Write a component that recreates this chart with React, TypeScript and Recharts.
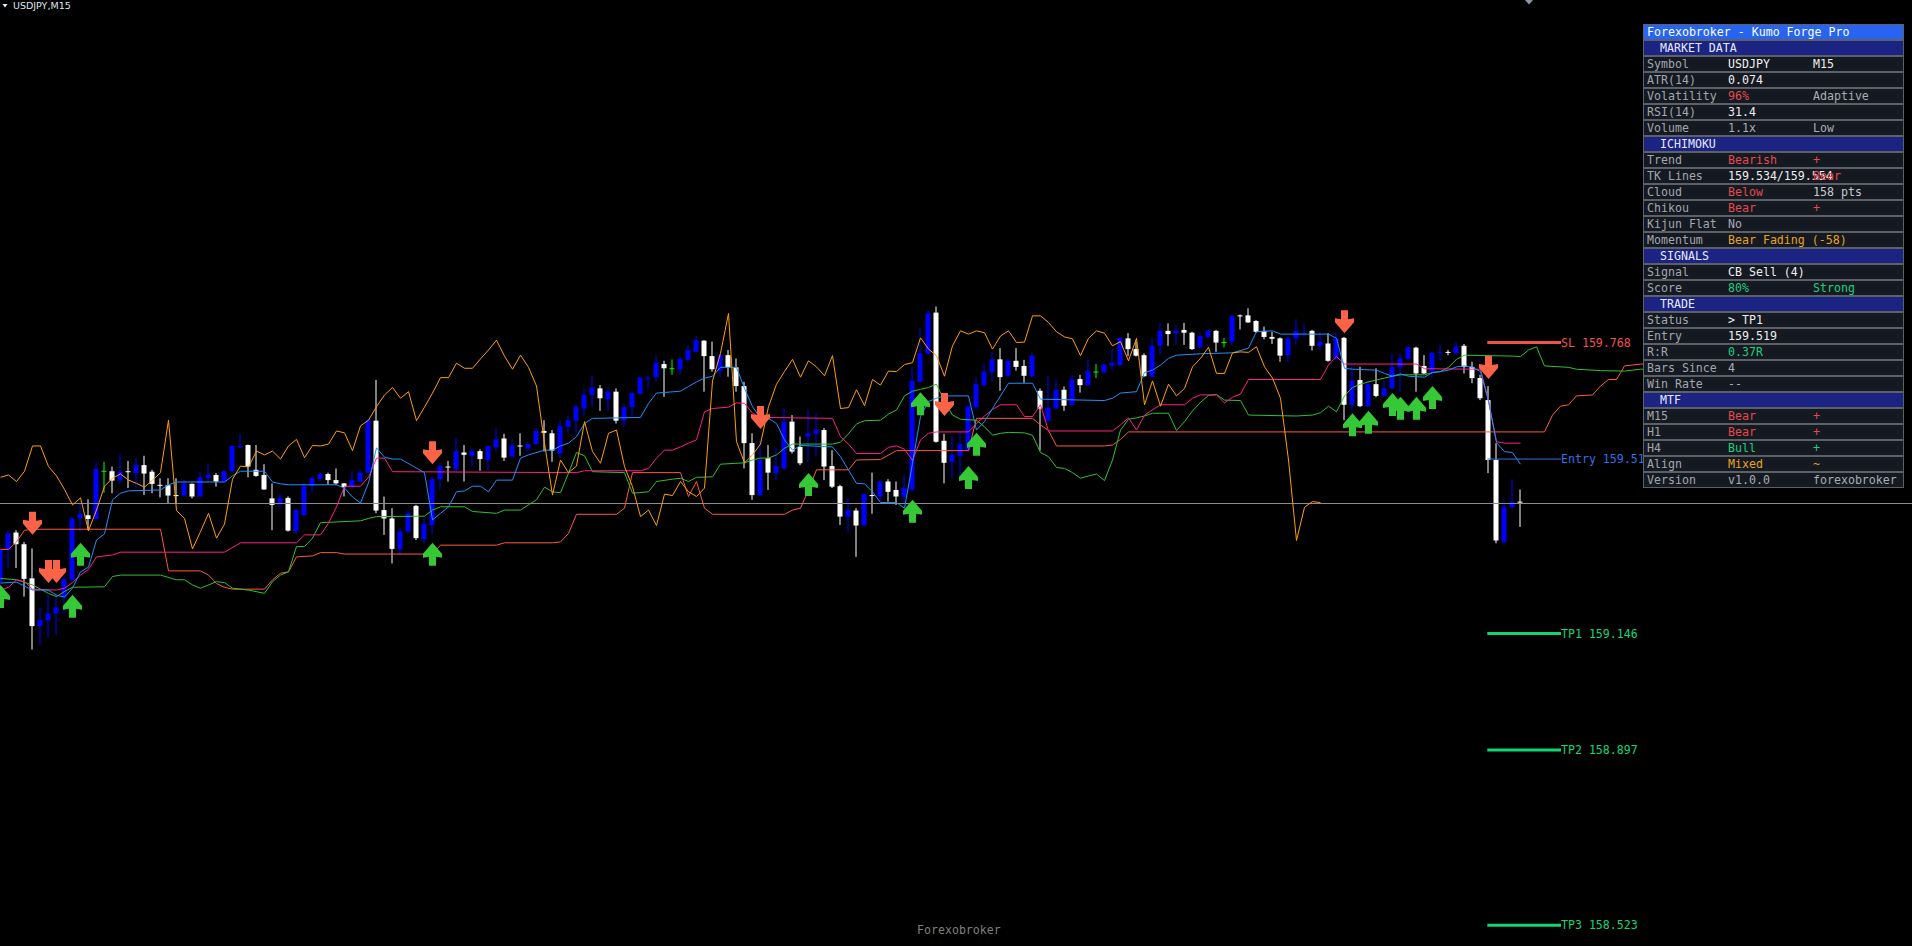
import { Bar, ComposedChart, Line, ReferenceDot, ReferenceLine, Scatter, XAxis, YAxis } from 'recharts'

const W = 1912
const H = 946
const MONO = '"DejaVu Sans Mono", "Liberation Mono", monospace'

// USDJPY M15 candles, index = bar number from the left edge
const opens = [
  159.257, 159.325, 159.362, 159.337, 159.264, 159.162, 159.174, 159.189, 159.225, 159.261,
  159.392, 159.399, 159.391, 159.494, 159.493, 159.473, 159.493, 159.489, 159.506, 159.492,
  159.464, 159.463, 159.442, 159.441, 159.466, 159.439, 159.478, 159.485, 159.471, 159.493,
  159.544, 159.549, 159.496, 159.485, 159.435, 159.424, 159.436, 159.365, 159.399, 159.461,
  159.476, 159.487, 159.474, 159.467, 159.459, 159.471, 159.49, 159.601, 159.41, 159.392,
  159.326, 159.364, 159.419, 159.348, 159.378, 159.476, 159.503, 159.497, 159.533, 159.526,
  159.536, 159.517, 159.544, 159.563, 159.524, 159.548, 159.542, 159.551, 159.579, 159.574,
  159.531, 159.588, 159.601, 159.627, 159.656, 159.67, 159.647, 159.663, 159.601, 159.63,
  159.658, 159.692, 159.694, 159.722, 159.713, 159.711, 159.731, 159.748, 159.772, 159.739,
  159.708, 159.741, 159.715, 159.675, 159.553, 159.442, 159.521, 159.489, 159.499, 159.599,
  159.545, 159.567, 159.573, 159.581, 159.504, 159.461, 159.396, 159.409, 159.377, 159.442,
  159.439, 159.471, 159.453, 159.439, 159.454, 159.684, 159.744, 159.832, 159.558, 159.513,
  159.526, 159.538, 159.63, 159.677, 159.704, 159.732, 159.697, 159.729, 159.718, 159.696,
  159.665, 159.601, 159.627, 159.667, 159.635, 159.69, 159.677, 159.706, 159.704, 159.719,
  159.72, 159.777, 159.754, 159.741, 159.695, 159.761, 159.793, 159.788, 159.795, 159.789,
  159.758, 159.78, 159.793, 159.769, 159.77, 159.826, 159.826, 159.814, 159.793, 159.78,
  159.777, 159.741, 159.777, 159.787, 159.793, 159.761, 159.766, 159.734, 159.778, 159.635,
  159.688, 159.632, 159.679, 159.654, 159.67, 159.715, 159.733, 159.757, 159.718, 159.706,
  159.747, 159.748, 159.745, 159.761, 159.716, 159.692, 159.645, 159.517, 159.342, 159.416,
  159.428,
]
const highs = [
  159.329, 159.367, 159.367, 159.342, 159.328, 159.202, 159.229, 159.229, 159.268, 159.395,
  159.424, 159.433, 159.513, 159.513, 159.503, 159.53, 159.515, 159.521, 159.526, 159.496,
  159.478, 159.478, 159.478, 159.474, 159.467, 159.492, 159.51, 159.489, 159.496, 159.549,
  159.574, 159.55, 159.549, 159.508, 159.467, 159.446, 159.439, 159.414, 159.467, 159.483,
  159.49, 159.49, 159.499, 159.468, 159.494, 159.496, 159.606, 159.688, 159.439, 159.414,
  159.372, 159.41, 159.421, 159.392, 159.481, 159.51, 159.515, 159.565, 159.549, 159.542,
  159.54, 159.548, 159.585, 159.573, 159.56, 159.574, 159.556, 159.585, 159.602, 159.581,
  159.602, 159.613, 159.635, 159.67, 159.697, 159.677, 159.672, 159.67, 159.637, 159.663,
  159.695, 159.699, 159.741, 159.729, 159.732, 159.736, 159.763, 159.782, 159.773, 159.77,
  159.744, 159.752, 159.734, 159.684, 159.574, 159.56, 159.549, 159.542, 159.627, 159.613,
  159.567, 159.624, 159.617, 159.585, 159.538, 159.464, 159.435, 159.414, 159.446, 159.49,
  159.473, 159.476, 159.471, 159.486, 159.715, 159.8, 159.838, 159.845, 159.573, 159.568,
  159.577, 159.635, 159.694, 159.724, 159.748, 159.756, 159.733, 159.756, 159.731, 159.747,
  159.67, 159.697, 159.689, 159.674, 159.699, 159.699, 159.731, 159.722, 159.722, 159.754,
  159.779, 159.788, 159.77, 159.745, 159.777, 159.81, 159.809, 159.805, 159.81, 159.791,
  159.788, 159.796, 159.795, 159.778, 159.827, 159.828, 159.841, 159.816, 159.802, 159.791,
  159.779, 159.78, 159.818, 159.809, 159.795, 159.789, 159.788, 159.791, 159.78, 159.72,
  159.716, 159.688, 159.713, 159.688, 159.745, 159.745, 159.759, 159.759, 159.741, 159.748,
  159.763, 159.752, 159.77, 159.765, 159.727, 159.699, 159.675, 159.553, 159.432, 159.476,
  159.454,
]
const lows = [
  159.239, 159.286, 159.286, 159.225, 159.112, 159.122, 159.138, 159.143, 159.189, 159.257,
  159.364, 159.367, 159.389, 159.447, 159.446, 159.467, 159.457, 159.457, 159.442, 159.446,
  159.437, 159.424, 159.424, 159.439, 159.435, 159.439, 159.471, 159.46, 159.47, 159.492,
  159.542, 159.48, 159.481, 159.453, 159.367, 159.414, 159.364, 159.357, 159.397, 159.447,
  159.471, 159.464, 159.464, 159.439, 159.457, 159.47, 159.489, 159.403, 159.357, 159.296,
  159.314, 159.36, 159.346, 159.339, 159.359, 159.454, 159.471, 159.492, 159.471, 159.503,
  159.494, 159.496, 159.535, 159.515, 159.523, 159.526, 159.533, 159.549, 159.535, 159.513,
  159.521, 159.574, 159.573, 159.611, 159.631, 159.622, 159.622, 159.595, 159.588, 159.61,
  159.656, 159.67, 159.684, 159.652, 159.699, 159.699, 159.727, 159.746, 159.663, 159.706,
  159.695, 159.695, 159.663, 159.499, 159.432, 159.44, 159.453, 159.474, 159.496, 159.531,
  159.506, 159.513, 159.524, 159.474, 159.457, 159.378, 159.362, 159.31, 159.376, 159.402,
  159.428, 159.428, 159.421, 159.424, 159.449, 159.683, 159.743, 159.554, 159.467, 159.478,
  159.471, 159.536, 159.624, 159.674, 159.684, 159.665, 159.695, 159.708, 159.682, 159.694,
  159.537, 159.599, 159.625, 159.622, 159.632, 159.661, 159.675, 159.692, 159.703, 159.709,
  159.718, 159.739, 159.738, 159.695, 159.694, 159.741, 159.761, 159.766, 159.763, 159.752,
  159.756, 159.777, 159.748, 159.758, 159.763, 159.796, 159.81, 159.789, 159.775, 159.765,
  159.727, 159.727, 159.763, 159.78, 159.751, 159.752, 159.727, 159.731, 159.602, 159.624,
  159.63, 159.631, 159.651, 159.651, 159.667, 159.663, 159.731, 159.663, 159.701, 159.692,
  159.731, 159.741, 159.744, 159.702, 159.681, 159.645, 159.489, 159.339, 159.335, 159.414,
  159.374,
]
const closes = [
  159.325, 159.36, 159.337, 159.263, 159.162, 159.175, 159.189, 159.202, 159.262, 159.392,
  159.402, 159.391, 159.498, 159.494, 159.473, 159.492, 159.492, 159.506, 159.488, 159.466,
  159.463, 159.441, 159.441, 159.467, 159.439, 159.48, 159.485, 159.471, 159.493, 159.547,
  159.547, 159.503, 159.483, 159.454, 159.421, 159.436, 159.366, 159.41, 159.461, 159.478,
  159.487, 159.474, 159.467, 159.459, 159.474, 159.49, 159.602, 159.409, 159.392, 159.327,
  159.364, 159.403, 159.35, 159.38, 159.476, 159.504, 159.502, 159.536, 159.528, 159.536,
  159.519, 159.547, 159.561, 159.522, 159.548, 159.547, 159.551, 159.579, 159.575, 159.537,
  159.59, 159.602, 159.631, 159.656, 159.672, 159.649, 159.663, 159.601, 159.63, 159.66,
  159.693, 159.693, 159.724, 159.713, 159.713, 159.733, 159.752, 159.773, 159.739, 159.711,
  159.741, 159.715, 159.675, 159.553, 159.442, 159.517, 159.49, 159.504, 159.599, 159.535,
  159.51, 159.574, 159.581, 159.503, 159.46, 159.396, 159.41, 159.377, 159.444, 159.441,
  159.471, 159.449, 159.439, 159.457, 159.686, 159.745, 159.83, 159.556, 159.511, 159.528,
  159.551, 159.631, 159.679, 159.706, 159.732, 159.694, 159.729, 159.716, 159.697, 159.74,
  159.627, 159.629, 159.667, 159.633, 159.689, 159.677, 159.707, 159.706, 159.721, 159.725,
  159.778, 159.754, 159.74, 159.696, 159.761, 159.793, 159.786, 159.793, 159.789, 159.754,
  159.782, 159.793, 159.768, 159.769, 159.825, 159.825, 159.811, 159.791, 159.78, 159.776,
  159.74, 159.777, 159.793, 159.788, 159.761, 159.77, 159.729, 159.777, 159.635, 159.686,
  159.632, 159.679, 159.654, 159.67, 159.716, 159.734, 159.758, 159.702, 159.702, 159.746,
  159.748, 159.747, 159.759, 159.716, 159.692, 159.649, 159.517, 159.345, 159.416, 159.428,
  159.426,
]

// ichimoku lines: [bar, price] at every corner of the line
const tenkanPts = [
  [0, 159.254], [2, 159.256], [4, 159.239], [6, 159.239], [7, 159.228], [8, 159.224], [9, 159.243],
  [10, 159.278], [11, 159.288], [12, 159.346], [13, 159.359], [14, 159.432], [15, 159.446], [16, 159.451],
  [20, 159.453], [21, 159.464], [22, 159.47], [28, 159.47], [29, 159.483], [30, 159.493], [33, 159.493],
  [34, 159.47], [35, 159.466], [36, 159.464], [42, 159.464], [43, 159.457], [44, 159.438], [45, 159.425],
  [46, 159.468], [47, 159.543], [48, 159.523], [49, 159.519], [50, 159.519], [53, 159.49], [54, 159.389],
  [55, 159.403], [56, 159.417], [57, 159.449], [58, 159.451], [59, 159.461], [60, 159.461], [61, 159.449],
  [62, 159.474], [64, 159.474], [65, 159.521], [66, 159.528], [68, 159.538], [69, 159.538], [70, 159.547],
  [71, 159.553], [72, 159.567], [73, 159.595], [74, 159.606], [80, 159.608], [81, 159.638], [82, 159.66],
  [85, 159.664], [86, 159.674], [87, 159.684], [88, 159.692], [89, 159.696], [90, 159.715], [92, 159.715],
  [93, 159.67], [94, 159.631], [95, 159.606], [96, 159.606], [97, 159.595], [98, 159.56], [99, 159.538],
  [100, 159.548], [104, 159.545], [105, 159.524], [107, 159.467], [108, 159.466], [109, 159.449],
  [110, 159.426], [112, 159.426], [113, 159.414], [114, 159.51], [115, 159.61], [116, 159.642],
  [117, 159.649], [118, 159.654], [121, 159.654], [122, 159.581], [123, 159.599], [124, 159.627],
  [125, 159.654], [126, 159.681], [129, 159.681], [130, 159.647], [138, 159.644], [139, 159.649],
  [140, 159.66], [142, 159.663], [143, 159.704], [144, 159.709], [145, 159.72], [146, 159.734],
  [147, 159.741], [150, 159.744], [154, 159.746], [156, 159.756], [157, 159.791], [159, 159.793],
  [160, 159.786], [166, 159.786], [167, 159.777], [168, 159.713], [169, 159.711], [172, 159.709],
  [173, 159.702], [174, 159.696], [175, 159.701], [176, 159.696], [177, 159.695], [178, 159.694],
  [179, 159.704], [180, 159.706], [181, 159.709], [182, 159.716], [183, 159.718], [184, 159.715],
  [185, 159.706], [186, 159.642], [187, 159.554], [188, 159.535], [189, 159.533], [190, 159.508],
]
const kijunPts = [
  [0, 159.239], [1, 159.245], [2, 159.261], [3, 159.257], [4, 159.241], [7, 159.239], [8, 159.243],
  [9, 159.255], [10, 159.271], [11, 159.283], [12, 159.31], [14, 159.314], [15, 159.32], [28, 159.32],
  [30, 159.34], [37, 159.34], [38, 159.357], [40, 159.357], [41, 159.382], [42, 159.417], [43, 159.461],
  [45, 159.461], [46, 159.48], [47, 159.521], [48, 159.521], [49, 159.492], [72, 159.49], [73, 159.494],
  [80, 159.494], [81, 159.499], [82, 159.521], [83, 159.538], [84, 159.538], [85, 159.545], [86, 159.553],
  [87, 159.56], [88, 159.62], [89, 159.627], [91, 159.63], [92, 159.639], [93, 159.638], [94, 159.617],
  [95, 159.608], [104, 159.606], [105, 159.567], [106, 159.551], [107, 159.531], [110, 159.531],
  [111, 159.544], [112, 159.547], [113, 159.54], [114, 159.516], [115, 159.56], [116, 159.574],
  [117, 159.577], [121, 159.577], [122, 159.595], [123, 159.611], [124, 159.625], [125, 159.635],
  [127, 159.635], [128, 159.61], [129, 159.61], [130, 159.635], [131, 159.579], [139, 159.579],
  [140, 159.592], [141, 159.607], [142, 159.581], [143, 159.613], [145, 159.635], [148, 159.635],
  [149, 159.649], [150, 159.656], [152, 159.656], [153, 159.639], [154, 159.651], [155, 159.658],
  [156, 159.689], [165, 159.689], [166, 159.72], [167, 159.738], [168, 159.722], [177, 159.722],
  [178, 159.712], [185, 159.711], [186, 159.645], [187, 159.556], [188, 159.553], [190, 159.553],
]
const spanAPts = [
  [0, 159.264], [2, 159.261], [4, 159.25], [6, 159.232], [7, 159.225], [8, 159.236], [9, 159.245],
  [13, 159.246], [14, 159.268], [15, 159.271], [20, 159.271], [22, 159.261], [23, 159.261], [24, 159.25],
  [25, 159.243], [27, 159.257], [28, 159.255], [29, 159.243], [31, 159.239], [33, 159.232], [34, 159.257],
  [35, 159.271], [36, 159.278], [37, 159.332], [38, 159.332], [39, 159.35], [40, 159.383], [45, 159.387],
  [46, 159.392], [47, 159.396], [53, 159.397], [54, 159.41], [55, 159.417], [58, 159.417], [59, 159.407],
  [62, 159.403], [63, 159.41], [65, 159.41], [66, 159.421], [67, 159.432], [68, 159.459], [69, 159.449],
  [70, 159.447], [71, 159.489], [72, 159.533], [73, 159.526], [74, 159.492], [78, 159.49], [79, 159.446],
  [81, 159.449], [82, 159.471], [84, 159.476], [85, 159.478], [86, 159.471], [87, 159.48], [89, 159.481],
  [90, 159.508], [93, 159.511], [94, 159.517], [95, 159.521], [96, 159.521], [97, 159.528], [98, 159.542],
  [99, 159.551], [104, 159.551], [105, 159.555], [106, 159.573], [107, 159.594], [108, 159.601],
  [110, 159.602], [111, 159.615], [112, 159.624], [113, 159.654], [114, 159.664], [115, 159.668],
  [116, 159.672], [117, 159.679], [118, 159.642], [119, 159.613], [120, 159.604], [122, 159.602],
  [123, 159.588], [124, 159.57], [125, 159.574], [126, 159.576], [128, 159.575], [129, 159.57],
  [130, 159.533], [131, 159.524], [132, 159.501], [133, 159.499], [134, 159.49], [135, 159.478],
  [136, 159.483], [137, 159.487], [138, 159.473], [139, 159.517], [140, 159.581], [141, 159.604],
  [142, 159.607], [143, 159.611], [144, 159.617], [146, 159.617], [147, 159.58], [148, 159.599],
  [149, 159.622], [150, 159.64], [151, 159.655], [152, 159.657], [153, 159.645], [155, 159.644],
  [156, 159.613], [162, 159.611], [164, 159.613], [165, 159.618], [166, 159.632], [167, 159.62],
  [168, 159.654], [169, 159.672], [170, 159.679], [171, 159.684], [172, 159.688], [173, 159.692],
  [174, 159.696], [175, 159.699], [178, 159.699], [179, 159.704], [180, 159.706], [181, 159.715],
  [182, 159.732], [183, 159.741], [189, 159.739], [190, 159.738], [191, 159.752], [192, 159.759],
  [193, 159.718], [196, 159.715], [197, 159.711], [200, 159.708], [203, 159.707], [205, 159.711],
  [215, 159.711],
]
const spanBPts = [
  [0, 159.326], [1, 159.326], [2, 159.342], [3, 159.367], [4, 159.369], [20, 159.369], [21, 159.28],
  [25, 159.28], [26, 159.271], [27, 159.253], [28, 159.245], [29, 159.241], [33, 159.241], [34, 159.261],
  [35, 159.275], [36, 159.278], [37, 159.31], [39, 159.312], [40, 159.319], [42, 159.319], [43, 159.316],
  [54, 159.316], [55, 159.335], [62, 159.335], [63, 159.34], [69, 159.34], [70, 159.342], [71, 159.36],
  [72, 159.401], [77, 159.401], [78, 159.414], [79, 159.49], [85, 159.49], [86, 159.439], [87, 159.471],
  [88, 159.414], [89, 159.401], [98, 159.401], [99, 159.41], [100, 159.414], [101, 159.453],
  [102, 159.496], [106, 159.496], [107, 159.517], [110, 159.518], [112, 159.537], [121, 159.537],
  [122, 159.606], [129, 159.606], [130, 159.592], [131, 159.58], [132, 159.547], [138, 159.547],
  [139, 159.549], [140, 159.561], [141, 159.577], [193, 159.577], [194, 159.613], [195, 159.632],
  [196, 159.635], [197, 159.654], [199, 159.656], [200, 159.675], [201, 159.689], [202, 159.689],
  [203, 159.718], [205, 159.722], [215, 159.722],
]
// chikou span = close plotted this many bars back
const chikouShift = 25

// signal arrows: [bar, price at arrow tip]
const sellArrows = [
  [4, 159.357], [6, 159.254], [7, 159.254], [54, 159.508], [95, 159.583], [118, 159.611],
  [168, 159.788], [186, 159.69],
]
const buyArrows = [
  [0, 159.25], [9, 159.229], [10, 159.34], [54, 159.34], [101, 159.489], [114, 159.432],
  [115, 159.662], [121, 159.504], [122, 159.575], [169, 159.617], [171, 159.622], [174, 159.66],
  [175, 159.652], [177, 159.652], [179, 159.675],
]

const bidPrice = 159.424
const tradeLevels = [
  { name: 'SL', price: 159.768 },
  { name: 'Entry', price: 159.519 },
  { name: 'TP1', price: 159.146 },
  { name: 'TP2', price: 158.897 },
  { name: 'TP3', price: 158.523 },
]
const levelStart = 185.85
const levelEnd = 195.06
const levelColor: any = { SL: '#f0524c', Entry: '#3271e6', TP1: '#12d672', TP2: '#12d672', TP3: '#12d672' }
const levelWidth: any = { SL: 3, Entry: 1, TP1: 3, TP2: 3, TP3: 3 }

// dashboard rows: t = title, h = header, otherwise label / value / extra with tones
const panelRows: any[] = [
  { t: 'Forexobroker - Kumo Forge Pro' },
  { h: 'MARKET DATA' },
  { k: 'Symbol', v: 'USDJPY', vt: 'w', x: 'M15', xt: 'w' },
  { k: 'ATR(14)', v: '0.074', vt: 'w' },
  { k: 'Volatility', v: '96%', vt: 'r', x: 'Adaptive', xt: 'g' },
  { k: 'RSI(14)', v: '31.4', vt: 'w' },
  { k: 'Volume', v: '1.1x', vt: 'g', x: 'Low', xt: 'g' },
  { h: 'ICHIMOKU' },
  { k: 'Trend', v: 'Bearish', vt: 'r', x: '+', xt: 'r' },
  { k: 'TK Lines', v: '159.534/159.554', vt: 'w', x: 'Bear', xt: 'r' },
  { k: 'Cloud', v: 'Below', vt: 'r', x: '158 pts', xt: 'l' },
  { k: 'Chikou', v: 'Bear', vt: 'r', x: '+', xt: 'r' },
  { k: 'Kijun Flat', v: 'No', vt: 'g' },
  { k: 'Momentum', v: 'Bear Fading (-58)', vt: 'o' },
  { h: 'SIGNALS' },
  { k: 'Signal', v: 'CB Sell (4)', vt: 'w' },
  { k: 'Score', v: '80%', vt: 'gr', x: 'Strong', xt: 'gr' },
  { h: 'TRADE' },
  { k: 'Status', v: '> TP1', vt: 'w' },
  { k: 'Entry', v: '159.519', vt: 'w' },
  { k: 'R:R', v: '0.37R', vt: 'gr' },
  { k: 'Bars Since', v: '4', vt: 'g' },
  { k: 'Win Rate', v: '--', vt: 'g' },
  { h: 'MTF' },
  { k: 'M15', v: 'Bear', vt: 'r', x: '+', xt: 'r' },
  { k: 'H1', v: 'Bear', vt: 'r', x: '+', xt: 'r' },
  { k: 'H4', v: 'Bull', vt: 'gr', x: '+', xt: 'gr' },
  { k: 'Align', v: 'Mixed', vt: 'o', x: '~', xt: 'o' },
  { k: 'Version', v: 'v1.0.0', vt: 'g', x: 'forexobroker', xt: 'g' },
]
const toneColor: any = { w: '#eeeeee', l: '#c8cacc', g: '#a9adb2', r: '#e64a4a', gr: '#1dd07c', o: '#e9a21c' }

const N = 216
const rows: any[] = []
for (let i = 0; i < N; i++) rows.push({ i })
opens.forEach((o, i) => {
  Object.assign(rows[i], { range: [lows[i], highs[i]], o, h: highs[i], l: lows[i], c: closes[i] })
})
const put = (key: string, pts: number[][]) => pts.forEach(([i, v]) => { rows[i][key] = v })
put('tenkan', tenkanPts)
put('kijun', kijunPts)
put('spanA', spanAPts)
put('spanB', spanBPts)
closes.forEach((c, i) => { if (i - chikouShift >= 0) rows[i - chikouShift].chikou = c })

const sellData = sellArrows.map(([i, v]) => ({ i, v }))
const buyData = buyArrows.map(([i, v]) => ({ i, v }))

const Candle = (props: any) => {
  const { x, y, width, height, payload } = props
  if (!payload || payload.h == null) return null
  const { o, h, l, c } = payload
  const top = height >= 0 ? y : y + height
  const hgt = Math.abs(height)
  const span = h - l || 1e-9
  const py = (v: number) => top + ((h - v) / span) * hgt
  const cx = x + width / 2
  const color = c > o ? '#0000ff' : c < o ? '#ffffff' : '#00ff00'
  const bTop = py(Math.max(o, c))
  const bH = Math.max(1, py(Math.min(o, c)) - bTop)
  return (
    <g>
      <rect x={cx - 0.5} y={top} width={1} height={Math.max(1, hgt)} fill={color} />
      <rect x={cx - 2.5} y={bTop} width={5} height={bH} fill={color} />
    </g>
  )
}

const DownArrow = (props: any) => {
  const { cx, cy } = props
  const t = cy - 23
  const pts = [
    [cx - 3.5, t], [cx + 3.5, t], [cx + 3.5, t + 9], [cx + 9.5, t + 8], [cx + 9.5, t + 12],
    [cx, cy], [cx - 9.5, t + 12], [cx - 9.5, t + 8], [cx - 3.5, t + 9],
  ]
  return <polygon points={pts.map((p) => p.join(',')).join(' ')} fill='#fb6347' />
}

const UpArrow = (props: any) => {
  const { cx, cy } = props
  const b = cy + 23
  const pts = [
    [cx - 3.5, b], [cx + 3.5, b], [cx + 3.5, b - 9], [cx + 9.5, b - 8], [cx + 9.5, b - 12],
    [cx, cy], [cx - 9.5, b - 12], [cx - 9.5, b - 8], [cx - 3.5, b - 9],
  ]
  return <polygon points={pts.map((p) => p.join(',')).join(' ')} fill='#35c935' />
}

const Panel = () => (
  <div
    style={{
      position: 'absolute', left: 1643, top: 24, width: 261, height: 464, background: '#5c6067',
      fontFamily: MONO, fontSize: 11.6, zIndex: 2,
    }}
  >
    {panelRows.map((r, k) => {
      const bg = r.t ? '#2764f2' : r.h ? '#1b2482' : '#151922'
      return (
        <div
          key={k}
          style={{
            position: 'absolute', left: 1, top: k * 16 + 1, width: 259, height: 14,
            lineHeight: '14px', background: bg, whiteSpace: 'pre', overflow: 'hidden',
          }}
        >
          {r.t && <span style={{ position: 'absolute', left: 3, color: '#ffffff' }}>{r.t}</span>}
          {r.h && <span style={{ position: 'absolute', left: 16, color: '#e6e8ff' }}>{r.h}</span>}
          {r.k && <span style={{ position: 'absolute', left: 3, color: '#a3a7ad' }}>{r.k}</span>}
          {r.v && <span style={{ position: 'absolute', left: 84, color: toneColor[r.vt] }}>{r.v}</span>}
          {r.x && <span style={{ position: 'absolute', left: 169, color: toneColor[r.xt] }}>{r.x}</span>}
        </div>
      )
    })}
  </div>
)

const App = () => (
  <div style={{ position: 'absolute', left: 0, top: 0, width: W, height: H, background: '#000000', overflow: 'hidden' }}>
    <ComposedChart width={W} height={H} data={rows} margin={{ top: 0, right: 0, bottom: 0, left: 0 }}>
      <XAxis dataKey='i' type='number' domain={[-0.0625, 238.9375]} allowDataOverflow hide />
      <YAxis type='number' domain={[158.4784, 160.5]} allowDataOverflow hide />
      <ReferenceLine y={bidPrice} stroke='#8c8c8c' strokeWidth={1} />
      <Bar dataKey='range' barSize={5} isAnimationActive={false} shape={(p: any) => <Candle {...p} />} />
      <Line dataKey='spanB' type='linear' stroke='#ff5a3a' strokeWidth={1} dot={false} activeDot={false} connectNulls isAnimationActive={false} />
      <Line dataKey='spanA' type='linear' stroke='#30c030' strokeWidth={1} dot={false} activeDot={false} connectNulls isAnimationActive={false} />
      <Line dataKey='kijun' type='linear' stroke='#ff1f8a' strokeWidth={1} dot={false} activeDot={false} connectNulls isAnimationActive={false} />
      <Line dataKey='tenkan' type='linear' stroke='#1e90ff' strokeWidth={1} dot={false} activeDot={false} connectNulls isAnimationActive={false} />
      <Line dataKey='chikou' type='linear' stroke='#ffa000' strokeWidth={1} dot={false} activeDot={false} connectNulls isAnimationActive={false} />
      <Scatter data={sellData} dataKey='v' shape={DownArrow} isAnimationActive={false} />
      <Scatter data={buyData} dataKey='v' shape={UpArrow} isAnimationActive={false} />
      {tradeLevels.map((lv) => (
        <ReferenceLine
          key={lv.name}
          segment={[{ x: levelStart, y: lv.price }, { x: levelEnd, y: lv.price }]}
          stroke={levelColor[lv.name]}
          strokeWidth={levelWidth[lv.name]}
        />
      ))}
      {tradeLevels.map((lv) => (
        <ReferenceDot
          key={lv.name + '-label'}
          x={levelEnd}
          y={lv.price}
          r={0}
          shape={(p: any) => (
            <text x={p.cx} y={p.cy} dominantBaseline='central' fontFamily={MONO} fontSize={11.6} fill={levelColor[lv.name]}>
              {`${lv.name} ${lv.price.toFixed(3)}`}
            </text>
          )}
        />
      ))}
    </ComposedChart>

    <svg style={{ position: 'absolute', left: 0, top: 0 }} width={12} height={12}>
      <polygon points='2.5,4 7.5,4 5,7.5' fill='#e8ecf2' />
    </svg>
    <div style={{ position: 'absolute', left: 13, top: 0, fontFamily: '"DejaVu Sans", sans-serif', fontSize: 9.5, lineHeight: '12px', color: '#dfe6f0' }}>
      USDJPY,M15
    </div>
    <svg style={{ position: 'absolute', left: 1522, top: 0 }} width={14} height={8}>
      <polygon points='3,0 11,0 7,4.5' fill='#8a97a8' />
    </svg>
    <div style={{ position: 'absolute', left: 917, top: 923, fontFamily: MONO, fontSize: 11.6, lineHeight: '14px', color: '#7f7f7f' }}>
      Forexobroker
    </div>
    <Panel />
  </div>
)

export default App
